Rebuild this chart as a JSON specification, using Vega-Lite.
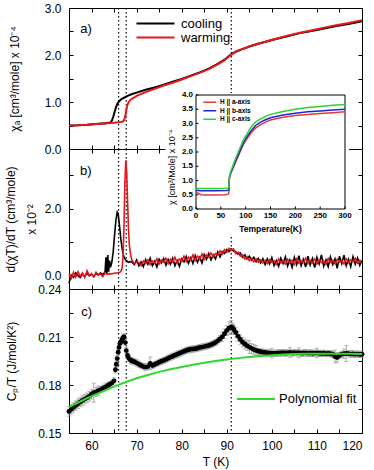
{
  "$schema": "https://vega.github.io/schema/vega-lite/v6.json",
  "padding": {"left": 3, "right": 5, "top": 1, "bottom": 2},
  "spacing": 0,
  "bounds": "flush",
  "config": {
    "font": "Liberation Sans",
    "view": {"stroke": "black", "strokeWidth": 1},
    "axis": {"domain": false, "grid": false, "tickColor": "black", "tickSize": -4, "tickWidth": 1, "labelColor": "black", "titleColor": "black", "labelFontSize": 12, "titleFontSize": 12, "titleFontWeight": "normal"},
    "legend": {"labelColor": "black", "padding": 0}
  },
  "resolve": {"scale": {"x": "independent", "y": "independent", "color": "independent"}},
  "datasets": {
    "vl": [{"T": 66}, {"T": 67.7}, {"T": 91}],
    "ixt": [{"t": 0}, {"t": 50}, {"t": 100}, {"t": 150}, {"t": 200}, {"t": 250}, {"t": 300}],
    "iyt": [{"t": 0}, {"t": 0.5}, {"t": 1}, {"t": 1.5}, {"t": 2}, {"t": 2.5}, {"t": 3}, {"t": 3.5}, {"t": 4}],
    "cool": [
      {"T":55,"v":0.50},{"T":57,"v":0.505},{"T":59,"v":0.515},{"T":61,"v":0.53},{"T":62.5,"v":0.545},{"T":63.5,"v":0.555},{"T":64.2,"v":0.565},{"T":64.5,"v":0.60},{"T":64.8,"v":0.68},{"T":65.1,"v":0.78},{"T":65.4,"v":0.88},{"T":65.7,"v":0.96},{"T":66,"v":1.0},{"T":66.5,"v":1.05},{"T":67,"v":1.08},{"T":68,"v":1.13},{"T":69,"v":1.17},{"T":70,"v":1.20},{"T":72,"v":1.26},{"T":74,"v":1.31},{"T":76,"v":1.37},{"T":78,"v":1.43},{"T":80,"v":1.49},{"T":82,"v":1.56},{"T":84,"v":1.63},{"T":86,"v":1.71},{"T":88,"v":1.81},{"T":89.5,"v":1.90},{"T":90.5,"v":1.98},{"T":91.2,"v":2.03},{"T":92,"v":2.07},{"T":93,"v":2.11},{"T":95,"v":2.18},{"T":97,"v":2.24},{"T":100,"v":2.32},{"T":103,"v":2.39},{"T":106,"v":2.46},{"T":110,"v":2.53},{"T":114,"v":2.61},{"T":117,"v":2.66},{"T":120,"v":2.72}
    ],
    "warm": [
      {"T":55,"v":0.50},{"T":57,"v":0.505},{"T":59,"v":0.515},{"T":61,"v":0.53},{"T":63,"v":0.545},{"T":65,"v":0.56},{"T":66.5,"v":0.575},{"T":67.1,"v":0.59},{"T":67.4,"v":0.66},{"T":67.7,"v":0.82},{"T":68,"v":0.95},{"T":68.3,"v":1.01},{"T":68.8,"v":1.06},{"T":69.5,"v":1.10},{"T":70,"v":1.13},{"T":72,"v":1.21},{"T":74,"v":1.28},{"T":76,"v":1.35},{"T":78,"v":1.41},{"T":80,"v":1.48},{"T":82,"v":1.55},{"T":84,"v":1.62},{"T":86,"v":1.70},{"T":88,"v":1.80},{"T":89.5,"v":1.89},{"T":90.5,"v":1.97},{"T":91.2,"v":2.02},{"T":92,"v":2.07},{"T":93,"v":2.11},{"T":95,"v":2.18},{"T":97,"v":2.24},{"T":100,"v":2.32},{"T":103,"v":2.40},{"T":106,"v":2.47},{"T":110,"v":2.55},{"T":114,"v":2.63},{"T":117,"v":2.68},{"T":120,"v":2.74}
    ],
    "dcool": [
      {"T":55,"v":-0.22},{"T":55.5,"v":0.02},{"T":56,"v":-0.05},{"T":56.5,"v":0.08},{"T":57,"v":0.0},{"T":57.5,"v":-0.06},{"T":58,"v":0.05},{"T":58.5,"v":-0.02},{"T":59,"v":0.07},{"T":59.5,"v":0.0},{"T":60,"v":0.04},{"T":60.5,"v":-0.03},{"T":61,"v":0.06},{"T":61.5,"v":0.02},{"T":62,"v":0.08},{"T":62.5,"v":0.03},{"T":63,"v":0.12},{"T":63.2,"v":0.55},{"T":63.4,"v":0.06},{"T":63.6,"v":0.62},{"T":63.8,"v":0.12},{"T":64.0,"v":0.45},{"T":64.2,"v":0.25},{"T":64.5,"v":0.40},{"T":64.8,"v":0.70},{"T":65.1,"v":1.2},{"T":65.4,"v":1.65},{"T":65.7,"v":1.9},{"T":65.9,"v":1.85},{"T":66.2,"v":1.5},{"T":66.5,"v":1.1},{"T":66.8,"v":0.8},{"T":67.1,"v":0.6},{"T":67.4,"v":0.5},{"T":67.8,"v":0.44},{"T":68.2,"v":0.40},{"T":68.6,"v":0.42},
      {"T":69,"v":0.40},{"T":69.5,"v":0.33},{"T":70,"v":0.47},{"T":70.5,"v":0.30},{"T":71,"v":0.41},{"T":71.5,"v":0.27},{"T":72,"v":0.48},{"T":72.5,"v":0.34},{"T":73,"v":0.52},{"T":73.5,"v":0.30},{"T":74,"v":0.43},{"T":74.5,"v":0.26},{"T":75,"v":0.49},{"T":75.5,"v":0.38},{"T":76,"v":0.51},{"T":76.5,"v":0.31},{"T":77,"v":0.48},{"T":77.5,"v":0.34},{"T":78,"v":0.52},{"T":78.5,"v":0.30},{"T":79,"v":0.45},{"T":79.5,"v":0.28},{"T":80,"v":0.50},{"T":80.5,"v":0.41},{"T":81,"v":0.57},{"T":81.5,"v":0.37},{"T":82,"v":0.53},{"T":82.5,"v":0.36},{"T":83,"v":0.60},{"T":83.5,"v":0.40},{"T":84,"v":0.55},{"T":84.5,"v":0.38},{"T":85,"v":0.63},{"T":85.5,"v":0.49},{"T":86,"v":0.66},{"T":86.5,"v":0.47},{"T":87,"v":0.62},{"T":87.5,"v":0.50},{"T":88,"v":0.71},{"T":88.5,"v":0.56},{"T":89,"v":0.72},{"T":89.5,"v":0.66},{"T":90,"v":0.78},{"T":90.5,"v":0.72},{"T":91,"v":0.80},{"T":91.5,"v":0.74},{"T":92,"v":0.72},{"T":92.5,"v":0.64},{"T":93,"v":0.68},{"T":93.5,"v":0.55},{"T":94,"v":0.62},{"T":94.5,"v":0.50},{"T":95,"v":0.58},{"T":95.5,"v":0.46},{"T":96,"v":0.55},{"T":96.5,"v":0.42},{"T":97,"v":0.52},{"T":97.5,"v":0.38},{"T":98,"v":0.51},{"T":98.5,"v":0.33},{"T":99,"v":0.50},{"T":99.5,"v":0.35},{"T":100,"v":0.54},{"T":100.5,"v":0.30},{"T":101,"v":0.45},{"T":101.5,"v":0.28},{"T":102,"v":0.52},{"T":102.5,"v":0.36},{"T":103,"v":0.56},{"T":103.5,"v":0.29},{"T":104,"v":0.47},{"T":104.5,"v":0.25},{"T":105,"v":0.55},{"T":105.5,"v":0.33},{"T":106,"v":0.60},{"T":106.5,"v":0.30},{"T":107,"v":0.49},{"T":107.5,"v":0.26},{"T":108,"v":0.58},{"T":108.5,"v":0.32},{"T":109,"v":0.51},{"T":109.5,"v":0.24},{"T":110,"v":0.55},{"T":110.5,"v":0.35},{"T":111,"v":0.62},{"T":111.5,"v":0.28},{"T":112,"v":0.47},{"T":112.5,"v":0.27},{"T":113,"v":0.56},{"T":113.5,"v":0.33},{"T":114,"v":0.50},{"T":114.5,"v":0.22},{"T":115,"v":0.58},{"T":115.5,"v":0.36},{"T":116,"v":0.61},{"T":116.5,"v":0.30},{"T":117,"v":0.49},{"T":117.5,"v":0.27},{"T":118,"v":0.57},{"T":118.5,"v":0.34},{"T":119,"v":0.53},{"T":119.5,"v":0.31},{"T":120,"v":0.46}
    ],
    "dwarm": [
      {"T":55,"v":0.05},{"T":55.5,"v":-0.08},{"T":56,"v":0.10},{"T":56.5,"v":-0.05},{"T":57,"v":0.12},{"T":57.5,"v":-0.02},{"T":58,"v":0.08},{"T":58.5,"v":-0.06},{"T":59,"v":0.15},{"T":59.5,"v":0.0},{"T":60,"v":0.06},{"T":60.5,"v":-0.04},{"T":61,"v":0.10},{"T":61.5,"v":0.02},{"T":62,"v":0.05},{"T":62.5,"v":-0.03},{"T":63,"v":0.08},{"T":63.5,"v":0.04},{"T":64,"v":0.06},{"T":64.5,"v":0.05},{"T":65,"v":0.07},{"T":65.5,"v":0.08},{"T":66,"v":0.09},{"T":66.5,"v":0.12},{"T":66.8,"v":0.25},{"T":67.0,"v":0.6},{"T":67.2,"v":1.5},{"T":67.4,"v":2.8},{"T":67.6,"v":3.45},{"T":67.8,"v":3.1},{"T":68.0,"v":2.2},{"T":68.2,"v":1.4},{"T":68.4,"v":0.9},{"T":68.7,"v":0.6},
      {"T":69,"v":0.45},{"T":69.5,"v":0.36},{"T":70,"v":0.42},{"T":70.5,"v":0.39},{"T":71,"v":0.30},{"T":71.5,"v":0.44},{"T":72,"v":0.36},{"T":72.5,"v":0.47},{"T":73,"v":0.33},{"T":73.5,"v":0.44},{"T":74,"v":0.37},{"T":74.5,"v":0.50},{"T":75,"v":0.35},{"T":75.5,"v":0.46},{"T":76,"v":0.40},{"T":76.5,"v":0.52},{"T":77,"v":0.36},{"T":77.5,"v":0.49},{"T":78,"v":0.41},{"T":78.5,"v":0.55},{"T":79,"v":0.38},{"T":79.5,"v":0.50},{"T":80,"v":0.44},{"T":80.5,"v":0.58},{"T":81,"v":0.42},{"T":81.5,"v":0.55},{"T":82,"v":0.47},{"T":82.5,"v":0.62},{"T":83,"v":0.45},{"T":83.5,"v":0.58},{"T":84,"v":0.50},{"T":84.5,"v":0.65},{"T":85,"v":0.49},{"T":85.5,"v":0.62},{"T":86,"v":0.55},{"T":86.5,"v":0.68},{"T":87,"v":0.56},{"T":87.5,"v":0.66},{"T":88,"v":0.62},{"T":88.5,"v":0.74},{"T":89,"v":0.65},{"T":89.5,"v":0.78},{"T":90,"v":0.70},{"T":90.5,"v":0.82},{"T":91,"v":0.76},{"T":91.5,"v":0.80},{"T":92,"v":0.66},{"T":92.5,"v":0.70},{"T":93,"v":0.58},{"T":93.5,"v":0.62},{"T":94,"v":0.50},{"T":94.5,"v":0.57},{"T":95,"v":0.45},{"T":95.5,"v":0.52},{"T":96,"v":0.42},{"T":96.5,"v":0.50},{"T":97,"v":0.40},{"T":97.5,"v":0.47},{"T":98,"v":0.38},{"T":98.5,"v":0.46},{"T":99,"v":0.36},{"T":99.5,"v":0.48},{"T":100,"v":0.40},{"T":100.5,"v":0.45},{"T":101,"v":0.34},{"T":101.5,"v":0.50},{"T":102,"v":0.38},{"T":102.5,"v":0.44},{"T":103,"v":0.35},{"T":103.5,"v":0.49},{"T":104,"v":0.39},{"T":104.5,"v":0.46},{"T":105,"v":0.33},{"T":105.5,"v":0.50},{"T":106,"v":0.37},{"T":106.5,"v":0.44},{"T":107,"v":0.40},{"T":107.5,"v":0.52},{"T":108,"v":0.36},{"T":108.5,"v":0.45},{"T":109,"v":0.38},{"T":109.5,"v":0.50},{"T":110,"v":0.35},{"T":110.5,"v":0.47},{"T":111,"v":0.39},{"T":111.5,"v":0.44},{"T":112,"v":0.34},{"T":112.5,"v":0.51},{"T":113,"v":0.40},{"T":113.5,"v":0.46},{"T":114,"v":0.36},{"T":114.5,"v":0.49},{"T":115,"v":0.41},{"T":115.5,"v":0.45},{"T":116,"v":0.35},{"T":116.5,"v":0.50},{"T":117,"v":0.39},{"T":117.5,"v":0.47},{"T":118,"v":0.42},{"T":118.5,"v":0.52},{"T":119,"v":0.38},{"T":119.5,"v":0.46},{"T":120,"v":0.43}
    ],
    "inset": [
      {"T":0,"a":0.60,"b":0.66,"c":0.72},{"T":5,"a":0.55,"b":0.65,"c":0.72},{"T":10,"a":0.50,"b":0.64,"c":0.72},{"T":20,"a":0.49,"b":0.64,"c":0.72},{"T":40,"a":0.49,"b":0.64,"c":0.72},{"T":60,"a":0.50,"b":0.65,"c":0.73},{"T":65,"a":0.52,"b":0.66,"c":0.74},{"T":66,"a":0.55,"b":0.68,"c":0.76},{"T":67,"a":1.05,"b":1.08,"c":1.12},{"T":70,"a":1.25,"b":1.28,"c":1.32},{"T":75,"a":1.45,"b":1.48,"c":1.55},{"T":80,"a":1.65,"b":1.70,"c":1.78},{"T":85,"a":1.85,"b":1.90,"c":2.0},{"T":90,"a":2.05,"b":2.10,"c":2.20},{"T":95,"a":2.25,"b":2.30,"c":2.40},{"T":100,"a":2.40,"b":2.47,"c":2.56},{"T":110,"a":2.65,"b":2.72,"c":2.85},{"T":120,"a":2.84,"b":2.93,"c":3.05},{"T":130,"a":2.96,"b":3.05,"c":3.16},{"T":140,"a":3.05,"b":3.13,"c":3.25},{"T":150,"a":3.12,"b":3.20,"c":3.32},{"T":175,"a":3.22,"b":3.30,"c":3.42},{"T":200,"a":3.28,"b":3.36,"c":3.50},{"T":225,"a":3.32,"b":3.41,"c":3.56},{"T":250,"a":3.35,"b":3.44,"c":3.60},{"T":275,"a":3.38,"b":3.47,"c":3.64},{"T":300,"a":3.41,"b":3.50,"c":3.67}
    ],
    "cp": [
      {"T":55,"v":0.1635,"e":0.003},{"T":55.5,"v":0.1648,"e":0.003},{"T":56,"v":0.1660,"e":0.003},{"T":56.5,"v":0.1672,"e":0.003},{"T":57,"v":0.1683,"e":0.003},{"T":57.5,"v":0.1694,"e":0.003},{"T":58,"v":0.1703,"e":0.003},{"T":58.5,"v":0.1712,"e":0.003},{"T":59,"v":0.1720,"e":0.003},{"T":59.5,"v":0.1729,"e":0.003},{"T":60,"v":0.1742,"e":0.003},{"T":60.5,"v":0.1752,"e":0.006},{"T":61,"v":0.1756,"e":0.003},{"T":61.5,"v":0.1764,"e":0.003},{"T":62,"v":0.1771,"e":0.002},{"T":62.5,"v":0.1779,"e":0.002},{"T":63,"v":0.1787,"e":0.002},{"T":63.5,"v":0.1795,"e":0.002},{"T":64,"v":0.1803,"e":0.002},{"T":64.5,"v":0.1812,"e":0.002},{"T":65,"v":0.1826,"e":0.002},{"T":65.3,"v":0.1895,"e":0.002},{"T":65.5,"v":0.1930,"e":0.002},{"T":65.7,"v":0.1965,"e":0.002},{"T":65.9,"v":0.2005,"e":0.002},{"T":66.1,"v":0.2035,"e":0.002},{"T":66.3,"v":0.2060,"e":0.002},{"T":66.6,"v":0.2072,"e":0.002},{"T":66.8,"v":0.2085,"e":0.002},{"T":67.0,"v":0.2095,"e":0.002},{"T":67.2,"v":0.2100,"e":0.002},{"T":67.5,"v":0.2065,"e":0.002},{"T":67.7,"v":0.2015,"e":0.002},{"T":68.0,"v":0.1985,"e":0.002},{"T":68.3,"v":0.1965,"e":0.002},{"T":68.7,"v":0.1955,"e":0.002},{"T":69,"v":0.1950,"e":0.002},{"T":69.5,"v":0.1945,"e":0.002},{"T":70,"v":0.1938,"e":0.002},{"T":70.5,"v":0.1930,"e":0.002},{"T":71,"v":0.1922,"e":0.002},{"T":71.5,"v":0.1915,"e":0.002},{"T":72,"v":0.1912,"e":0.002},{"T":72.5,"v":0.1915,"e":0.002},{"T":73,"v":0.1935,"e":0.004},{"T":73.5,"v":0.1922,"e":0.002},{"T":74,"v":0.1928,"e":0.002},{"T":74.5,"v":0.1935,"e":0.002},{"T":75,"v":0.1942,"e":0.002},{"T":75.5,"v":0.1948,"e":0.002},{"T":76,"v":0.1953,"e":0.002},{"T":76.5,"v":0.1960,"e":0.002},{"T":77,"v":0.1967,"e":0.002},{"T":77.5,"v":0.1974,"e":0.002},{"T":78,"v":0.1980,"e":0.002},{"T":78.5,"v":0.1986,"e":0.002},{"T":79,"v":0.1992,"e":0.002},{"T":79.5,"v":0.1998,"e":0.002},{"T":80,"v":0.2004,"e":0.002},{"T":80.5,"v":0.2010,"e":0.002},{"T":81,"v":0.2016,"e":0.002},{"T":81.5,"v":0.2020,"e":0.002},{"T":82,"v":0.2023,"e":0.002},{"T":82.5,"v":0.2025,"e":0.002},{"T":83,"v":0.2027,"e":0.002},{"T":83.5,"v":0.2030,"e":0.002},{"T":84,"v":0.2034,"e":0.002},{"T":84.5,"v":0.2037,"e":0.002},{"T":85,"v":0.2040,"e":0.002},{"T":85.5,"v":0.2043,"e":0.002},{"T":86,"v":0.2047,"e":0.002},{"T":86.5,"v":0.2052,"e":0.002},{"T":87,"v":0.2058,"e":0.002},{"T":87.5,"v":0.2066,"e":0.002},{"T":88,"v":0.2076,"e":0.002},{"T":88.5,"v":0.2088,"e":0.002},{"T":89,"v":0.2102,"e":0.003},{"T":89.5,"v":0.2120,"e":0.003},{"T":90,"v":0.2140,"e":0.003},{"T":90.5,"v":0.2155,"e":0.004},{"T":91,"v":0.2163,"e":0.004},{"T":91.3,"v":0.2158,"e":0.003},{"T":91.6,"v":0.2146,"e":0.003},{"T":92,"v":0.2128,"e":0.003},{"T":92.5,"v":0.2104,"e":0.003},{"T":93,"v":0.2084,"e":0.003},{"T":93.5,"v":0.2068,"e":0.003},{"T":94,"v":0.2056,"e":0.003},{"T":94.5,"v":0.2046,"e":0.003},{"T":95,"v":0.2037,"e":0.004},{"T":95.5,"v":0.2029,"e":0.003},{"T":96,"v":0.2022,"e":0.003},{"T":96.5,"v":0.2016,"e":0.003},{"T":97,"v":0.2011,"e":0.002},{"T":97.5,"v":0.2008,"e":0.002},{"T":98,"v":0.2005,"e":0.002},{"T":98.5,"v":0.2003,"e":0.002},{"T":99,"v":0.2001,"e":0.002},{"T":99.5,"v":0.2000,"e":0.002},{"T":100,"v":0.1999,"e":0.003},{"T":100.5,"v":0.1998,"e":0.002},{"T":101,"v":0.1999,"e":0.002},{"T":101.5,"v":0.2001,"e":0.002},{"T":102,"v":0.2000,"e":0.002},{"T":102.5,"v":0.2002,"e":0.002},{"T":103,"v":0.2000,"e":0.002},{"T":103.5,"v":0.2001,"e":0.002},{"T":104,"v":0.2003,"e":0.003},{"T":104.5,"v":0.2000,"e":0.002},{"T":105,"v":0.2002,"e":0.002},{"T":105.5,"v":0.2001,"e":0.002},{"T":106,"v":0.2002,"e":0.003},{"T":106.5,"v":0.1999,"e":0.002},{"T":107,"v":0.2000,"e":0.002},{"T":107.5,"v":0.2001,"e":0.002},{"T":108,"v":0.1999,"e":0.002},{"T":108.5,"v":0.2000,"e":0.002},{"T":109,"v":0.1998,"e":0.002},{"T":109.5,"v":0.1999,"e":0.002},{"T":110,"v":0.2000,"e":0.003},{"T":110.5,"v":0.1998,"e":0.002},{"T":111,"v":0.1997,"e":0.002},{"T":111.5,"v":0.1998,"e":0.002},{"T":112,"v":0.1996,"e":0.002},{"T":112.5,"v":0.1997,"e":0.002},{"T":113,"v":0.1995,"e":0.002},{"T":113.5,"v":0.1992,"e":0.002},{"T":114,"v":0.1978,"e":0.004},{"T":114.5,"v":0.1972,"e":0.003},{"T":115,"v":0.1985,"e":0.002},{"T":115.5,"v":0.1992,"e":0.002},{"T":116,"v":0.1995,"e":0.003},{"T":116.5,"v":0.1997,"e":0.005},{"T":117,"v":0.1996,"e":0.002},{"T":117.5,"v":0.1993,"e":0.002},{"T":118,"v":0.1994,"e":0.002},{"T":118.5,"v":0.1992,"e":0.002},{"T":119,"v":0.1993,"e":0.002},{"T":119.5,"v":0.1991,"e":0.002},{"T":120,"v":0.1992,"e":0.002}
    ],
    "fit": [
      {"T":55,"v":0.1662},{"T":57.5,"v":0.1697},{"T":60,"v":0.1730},{"T":62.5,"v":0.1760},{"T":65,"v":0.1790},{"T":67.5,"v":0.1817},{"T":70,"v":0.1842},{"T":72.5,"v":0.1863},{"T":75,"v":0.1882},{"T":77.5,"v":0.1898},{"T":80,"v":0.1913},{"T":82.5,"v":0.1927},{"T":85,"v":0.1939},{"T":87.5,"v":0.1950},{"T":90,"v":0.1960},{"T":92.5,"v":0.1968},{"T":95,"v":0.1975},{"T":97.5,"v":0.1981},{"T":100,"v":0.1986},{"T":102.5,"v":0.1990},{"T":105,"v":0.1993},{"T":107.5,"v":0.1995},{"T":110,"v":0.1996},{"T":112.5,"v":0.1996},{"T":115,"v":0.1996},{"T":117.5,"v":0.1995},{"T":120,"v":0.1994}
    ]
  },
  "vconcat": [
    {
      "width": 293, "height": 141,
      "resolve": {"axis": {"x": "independent", "y": "independent"}},
      "layer": [
        {"data": {"name": "vl"}, "mark": {"type": "rule", "color": "black", "strokeDash": [1.5, 2.5], "strokeWidth": 1.2},
         "encoding": {"x": {"field": "T", "type": "quantitative", "axis": null, "scale": {"domain": [55, 120], "nice": false, "zero": false}}}},
        {"data": {"name": "cool"}, "mark": {"type": "line", "strokeWidth": 2},
         "encoding": {
           "x": {"field": "T", "type": "quantitative", "axis": {"orient": "bottom", "values": [55,60,65,70,75,80,85,90,95,100,105,110,115,120], "labels": false, "title": null}},
           "y": {"field": "v", "type": "quantitative", "scale": {"domain": [0, 3], "nice": false, "zero": false},
                 "axis": {"orient": "left", "values": [0,0.5,1,1.5,2,2.5,3], "format": ".1f", "labelExpr": "datum.value % 1 === 0 ? datum.label : ''", "title": "χₐ [cm³/mole] x 10⁻⁴", "titlePadding": 18, "minExtent": 30, "maxExtent": 30, "labelPadding": 12}},
           "color": {"datum": "cooling", "scale": {"domain": ["cooling", "warming"], "range": ["#000000", "#e8161b"]},
                     "legend": {"orient": "none", "legendX": 80, "legendY": 9, "title": null, "symbolType": "M-4.75,0H4.75", "symbolSize": 64, "symbolStrokeWidth": 2, "labelFontSize": 13, "rowPadding": 0, "labelOffset": 19}}
         }},
        {"data": {"name": "warm"}, "mark": {"type": "line", "strokeWidth": 2},
         "encoding": {
           "x": {"field": "T", "type": "quantitative", "axis": {"orient": "top", "values": [55,60,65,70,75,80,85,90,95,100,105,110,115,120], "labels": false, "title": null}},
           "y": {"field": "v", "type": "quantitative", "axis": {"orient": "right", "values": [0,0.5,1,1.5,2,2.5,3], "labels": false, "title": null}},
           "color": {"datum": "warming"}
         }},
        {"data": {"values": [{}]}, "mark": {"type": "text", "text": "a)", "fontSize": 13, "align": "center", "baseline": "middle"},
         "encoding": {"x": {"datum": 58.8, "axis": null}, "y": {"datum": 2.56, "axis": null}}}
      ]
    },
    {
      "width": 293, "height": 140,
      "resolve": {"scale": {"x": "independent", "y": "independent", "color": "independent"}},
      "layer": [
        {
          "resolve": {"axis": {"x": "independent", "y": "independent"}},
          "layer": [
            {"data": {"name": "vl"}, "mark": {"type": "rule", "color": "black", "strokeDash": [1.5, 2.5], "strokeWidth": 1.2},
             "encoding": {"x": {"field": "T", "type": "quantitative", "axis": null, "scale": {"domain": [55, 120], "nice": false, "zero": false}}}},
            {"data": {"name": "dcool"}, "mark": {"type": "line", "strokeWidth": 1.6, "color": "#000000"},
             "encoding": {
               "x": {"field": "T", "type": "quantitative", "axis": {"orient": "bottom", "values": [55,60,65,70,75,80,85,90,95,100,105,110,115,120], "labels": false, "title": null}},
               "y": {"field": "v", "type": "quantitative", "scale": {"domain": [-0.4, 3.79], "nice": false, "zero": false},
                     "axis": {"orient": "left", "values": [0,1,2,3], "format": ".1f", "labelExpr": "datum.value % 2 === 0 ? datum.label : ''", "title": ["d(χT)/dT (cm³/mole)", "x 10⁻²"], "titleLineHeight": 21, "titlePadding": 1, "minExtent": 30, "maxExtent": 30, "labelPadding": 12}}
             }},
            {"data": {"name": "dwarm"}, "mark": {"type": "line", "strokeWidth": 1.6, "color": "#e8161b"},
             "encoding": {
               "x": {"field": "T", "type": "quantitative", "axis": {"orient": "top", "values": [55,60,65,70,75,80,85,90,95,100,105,110,115,120], "labels": false, "title": null}},
               "y": {"field": "v", "type": "quantitative", "axis": {"orient": "right", "values": [0,1,2,3], "labels": false, "title": null}}
             }},
            {"data": {"values": [{}]}, "mark": {"type": "text", "text": "b)", "fontSize": 13, "align": "center", "baseline": "middle"},
             "encoding": {"x": {"datum": 58.7, "axis": null}, "y": {"datum": 3.12, "axis": null}}}
          ]
        },
        {
          "layer": [
            {"data": {"values": [{}]}, "mark": {"type": "rect", "fill": "white", "stroke": null},
             "encoding": {
               "x": {"datum": -62, "type": "quantitative", "axis": null, "scale": {"domain": [0, 300], "range": [127, 276], "nice": false, "zero": false}},
               "x2": {"datum": 308},
               "y": {"datum": 4.07, "type": "quantitative", "axis": null, "scale": {"domain": [0, 4], "range": [60, -54], "nice": false, "zero": false}},
               "y2": {"datum": -0.98}
             }},
            {"data": {"values": [{}]}, "mark": {"type": "rect", "fill": null, "stroke": "black", "strokeWidth": 1},
             "encoding": {
               "x": {"datum": 0, "type": "quantitative", "axis": null},
               "x2": {"datum": 300},
               "y": {"datum": 4, "type": "quantitative", "axis": null},
               "y2": {"datum": 0}
             }},
            {"data": {"name": "ixt"}, "mark": {"type": "rule", "color": "black", "strokeWidth": 1},
             "encoding": {
               "x": {"field": "t", "type": "quantitative", "axis": null},
               "y": {"datum": 0, "type": "quantitative", "axis": null},
               "y2": {"datum": 0.09}
             }},
            {"data": {"name": "iyt"}, "mark": {"type": "rule", "color": "black", "strokeWidth": 1},
             "encoding": {
               "x": {"datum": 0, "type": "quantitative", "axis": null},
               "x2": {"datum": 5},
               "y": {"field": "t", "type": "quantitative", "axis": null}
             }},
            {"data": {"name": "ixt"}, "mark": {"type": "text", "fontSize": 8, "fontWeight": "bold", "baseline": "top", "align": "center", "dy": 2.5, "color": "black"},
             "encoding": {
               "x": {"field": "t", "type": "quantitative", "axis": null},
               "y": {"datum": 0, "type": "quantitative", "axis": null},
               "text": {"field": "t", "type": "quantitative"}
             }},
            {"data": {"name": "iyt"}, "mark": {"type": "text", "fontSize": 8, "fontWeight": "bold", "baseline": "middle", "align": "right", "dx": -3, "color": "black"},
             "encoding": {
               "x": {"datum": 0, "type": "quantitative", "axis": null},
               "y": {"field": "t", "type": "quantitative", "axis": null},
               "text": {"field": "t", "type": "quantitative", "format": ".1f"}
             }},
            {"data": {"values": [{}]}, "mark": {"type": "text", "text": "Temperature(K)", "fontSize": 8.5, "fontWeight": "bold", "baseline": "top", "align": "center", "dy": 16, "color": "black"},
             "encoding": {
               "x": {"datum": 150, "type": "quantitative", "axis": null},
               "y": {"datum": 0, "type": "quantitative", "axis": null}
             }},
            {"data": {"values": [{}]}, "mark": {"type": "text", "text": "χ [cm³/Mole] x 10⁻⁴", "fontSize": 9, "angle": 270, "baseline": "middle", "align": "center", "dy": -24, "color": "black"},
             "encoding": {
               "x": {"datum": 0, "type": "quantitative", "axis": null},
               "y": {"datum": 1.47, "type": "quantitative", "axis": null}
             }},
            {"data": {"name": "inset"}, "transform": [{"fold": ["a", "b", "c"], "as": ["key", "chi"]}],
             "mark": {"type": "line", "strokeWidth": 1.5},
             "encoding": {
               "x": {"field": "T", "type": "quantitative", "axis": null},
               "y": {"field": "chi", "type": "quantitative", "axis": null},
               "color": {"field": "key", "type": "nominal", "scale": {"domain": ["a", "b", "c"], "range": ["#e03a3a", "#2323d8", "#2ed12e"]},
                         "legend": {"orient": "none", "legendX": 137.5, "legendY": -50, "title": null, "symbolType": "M-3.25,0H3.25", "symbolSize": 16, "symbolStrokeWidth": 1.5, "labelFontSize": 6.5, "labelFontWeight": "bold", "rowPadding": 1.5, "labelOffset": 7, "labelExpr": "'H || ' + datum.label + '-axis'"}}
             }}
          ]
        }
      ]
    },
    {
      "width": 293, "height": 144,
      "resolve": {"axis": {"x": "independent", "y": "independent"}},
      "layer": [
        {"data": {"name": "vl"}, "mark": {"type": "rule", "color": "black", "strokeDash": [1.5, 2.5], "strokeWidth": 1.2},
         "encoding": {"x": {"field": "T", "type": "quantitative", "axis": null, "scale": {"domain": [55, 120], "nice": false, "zero": false}}}},
        {"data": {"name": "cp"}, "mark": {"type": "errorbar", "color": "#8c8c8c", "thickness": 0.8, "ticks": {"size": 4}},
         "encoding": {
           "x": {"field": "T", "type": "quantitative", "axis": null},
           "y": {"field": "v", "type": "quantitative", "axis": null, "scale": {"domain": [0.15, 0.24], "nice": false, "zero": false}},
           "yError": {"field": "e"}
         }},
        {"data": {"name": "cp"}, "mark": {"type": "circle", "size": 24, "color": "#000000", "opacity": 1},
         "encoding": {
           "x": {"field": "T", "type": "quantitative", "axis": {"orient": "bottom", "values": [55,60,65,70,75,80,85,90,95,100,105,110,115,120], "labelExpr": "datum.value % 10 === 0 ? datum.label : ''", "labelPadding": 11, "title": "T (K)", "titlePadding": 5}},
           "y": {"field": "v", "type": "quantitative",
                 "axis": {"orient": "left", "values": [0.15,0.165,0.18,0.195,0.21,0.225,0.24], "format": ".2f", "labelExpr": "round(datum.value*1000) % 30 === 0 ? datum.label : ''", "title": "Cₚ/T (J/mol/K²)", "titlePadding": 21, "minExtent": 30, "maxExtent": 30, "labelPadding": 12}}
         }},
        {"data": {"name": "fit"}, "mark": {"type": "line", "strokeWidth": 2},
         "encoding": {
           "x": {"field": "T", "type": "quantitative", "axis": {"orient": "top", "values": [55,60,65,70,75,80,85,90,95,100,105,110,115,120], "labels": false, "title": null}},
           "y": {"field": "v", "type": "quantitative", "axis": {"orient": "right", "values": [0.15,0.165,0.18,0.195,0.21,0.225,0.24], "labels": false, "title": null}},
           "color": {"datum": "Polynomial fit", "scale": {"domain": ["Polynomial fit"], "range": ["#2fd82f"]},
                     "legend": {"orient": "none", "legendX": 167, "legendY": 90, "title": null, "symbolType": "stroke", "symbolSize": 1444, "symbolStrokeWidth": 2, "labelFontSize": 13, "labelOffset": 3}}
         }},
        {"data": {"values": [{}]}, "mark": {"type": "text", "text": "c)", "fontSize": 13, "align": "center", "baseline": "middle"},
         "encoding": {"x": {"datum": 58.9, "axis": null}, "y": {"datum": 0.2258, "axis": null}}}
      ]
    }
  ]
}
